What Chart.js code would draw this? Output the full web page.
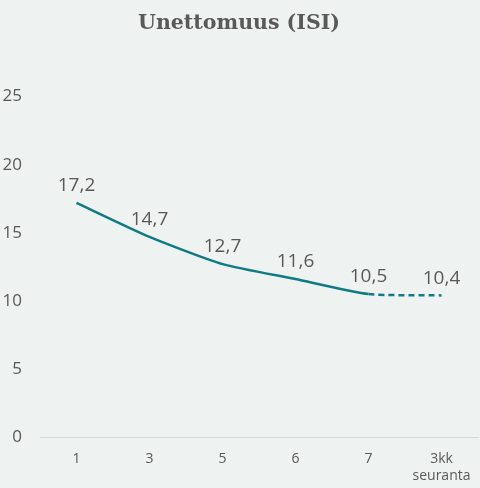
<!DOCTYPE html>
<html><head><meta charset="utf-8">
<script src="https://cdn.jsdelivr.net/npm/chart.js@4/dist/chart.umd.min.js"></script>
<style>
html,body{margin:0;padding:0;background:#eef2f1;}
#wrap{width:480px;height:488px;}
</style></head>
<body><div id="wrap"><canvas id="c" width="480" height="488"></canvas></div>
<script>
const categories = ["1", "3", "5", "6", "7", ["3kk", "seuranta"]];
const isiValues = [17.2, 14.7, 12.7, 11.6, 10.5, 10.4];
const valueLabels = ["17,2", "14,7", "12,7", "11,6", "10,5", "10,4"];
const yTicks = [0, 5, 10, 15, 20, 25];
const titleText = "Unettomuus (ISI)";

const textColor = "#595959";
const lineColor = "#0f7b84";

const labelPlugin = {
  id: "valueLabels",
  afterDatasetsDraw(chart) {
    const ctx = chart.ctx;
    const meta = chart.getDatasetMeta(0);
    ctx.save();
    ctx.font = "19px 'Open Sans', sans-serif";
    ctx.fillStyle = textColor;
    ctx.textAlign = "center";
    ctx.textBaseline = "middle";
    meta.data.forEach((pt, i) => {
      ctx.fillText(valueLabels[i], pt.x, pt.y - 17);
    });
    ctx.restore();
  }
};
const bgPlugin = {
  id: "bg",
  beforeDraw(chart) {
    const ctx = chart.ctx;
    ctx.save();
    ctx.fillStyle = "#eef2f1";
    ctx.fillRect(0, 0, chart.width, chart.height);
    ctx.restore();
  }
};

new Chart(document.getElementById("c"), {
  type: "line",
  data: {
    labels: categories,
    datasets: [{
      data: isiValues,
      borderColor: lineColor,
      borderWidth: 2.5,
      pointRadius: 0,
      tension: 0.2,
      fill: false,
      segment: {
        borderDash: c => c.p1DataIndex === isiValues.length - 1 ? [6, 4] : undefined
      }
    }]
  },
  options: {
    responsive: false,
    animation: false,
    layout: { padding: { top: 0, right: 2, bottom: 0, left: 0 } },
    plugins: {
      legend: { display: false },
      tooltip: { enabled: false },
      title: {
        display: true,
        text: titleText,
        color: textColor,
        font: { family: "'DejaVu Serif', serif", size: 20.5, weight: "bold" },
        padding: { top: 11, bottom: 61 }
      }
    },
    scales: {
      x: {
        offset: true,
        grid: { display: false, drawTicks: false },
        border: { display: true, color: "#d9d9d9", width: 1 },
        ticks: { color: textColor, font: { family: "'Open Sans', sans-serif", size: 14 }, padding: 14, maxRotation: 0 },
        afterFit(s) { s.height = 51; s.paddingRight = 0; s.paddingLeft = 0; }
      },
      y: {
        min: 0, max: 25,
        grid: { display: false, drawTicks: false },
        border: { display: false },
        afterBuildTicks(s) { s.ticks = yTicks.map(v => ({ value: v })); },
        ticks: { color: textColor, font: { family: "'Open Sans', sans-serif", size: 17 }, padding: 18 },
        afterFit(s) { s.width = 40; }
      }
    }
  },
  plugins: [bgPlugin, labelPlugin]
});
</script></body></html>
